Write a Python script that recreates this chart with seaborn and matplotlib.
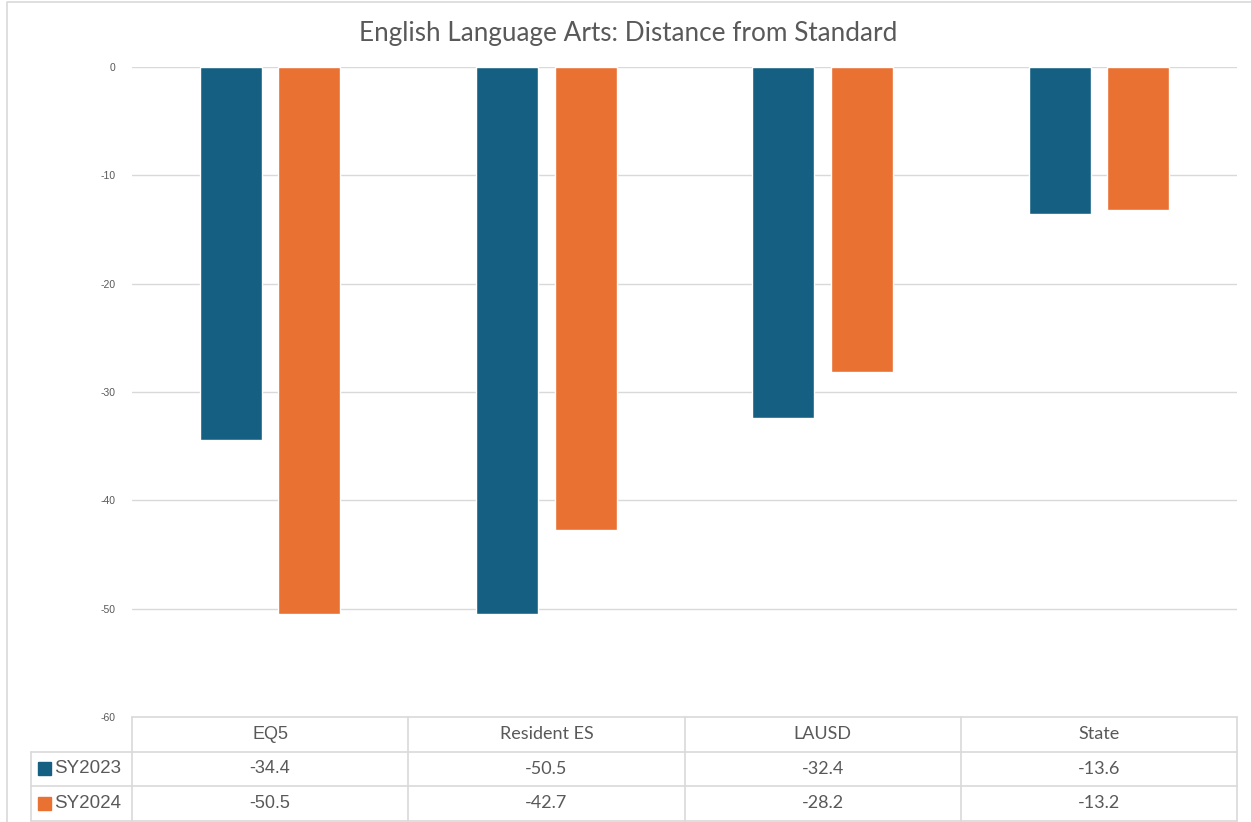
import matplotlib
matplotlib.use("Agg")
import matplotlib.pyplot as plt
import seaborn as sns
import pandas as pd
from matplotlib.patches import Rectangle
from matplotlib.lines import Line2D

# Data
categories = ["EQ5", "Resident ES", "LAUSD", "State"]
series_names = ["SY2023", "SY2024"]
sy2023 = [-34.4, -50.5, -32.4, -13.6]
sy2024 = [-50.5, -42.7, -28.2, -13.2]
y_ticks = [0, -10, -20, -30, -40, -50, -60]
title = "English Language Arts: Distance from Standard"

colors = ["#156082", "#E97132"]
text_gray = "#595959"
line_gray = "#D9D9D9"

df = pd.DataFrame({
    "category": categories * 2,
    "series": [series_names[0]] * len(categories) + [series_names[1]] * len(categories),
    "value": sy2023 + sy2024,
})

sns.set_theme(style="white")
plt.rcParams["font.family"] = ["Lato", "DejaVu Sans"]

W, H = 1251, 822
fig = plt.figure(figsize=(W / 100, H / 100), dpi=100)

# plot area in pixels
left, right, top, bottom = 132, 1237, 67, 717
ax = fig.add_axes([left / W, 1 - bottom / H, (right - left) / W, (bottom - top) / H])

sns.barplot(data=df, x="category", y="value", hue="series", order=categories,
            hue_order=series_names, palette=colors, width=0.569, gap=0.21,
            ax=ax, legend=False, errorbar=None, saturation=1)

ax.set_ylim(-60, 0)
ax.set_xlim(-0.5, len(categories) - 0.5)
ax.set_yticks(y_ticks)
ax.set_yticklabels([str(t) for t in y_ticks], fontsize=7.5, color=text_gray,
                   family=["Liberation Sans", "DejaVu Sans"])
ax.tick_params(axis="y", length=0, pad=12)
ax.set_xticks([])
ax.set_xlabel("")
ax.set_ylabel("")
for s in ax.spines.values():
    s.set_visible(False)
for t in y_ticks[:-1]:
    ax.axhline(t, color=line_gray, lw=1.0, zorder=0)

fig.text(628 / W, 1 - 33 / H, title, ha="center", va="center",
         fontsize=18.8, color=text_gray)

# data table under the plot area
row_h = 34.5 / (bottom - top)  # in axes fraction
legend_left = (31 - left) / (right - left)
tr = ax.get_xaxis_transform()
ta = ax.transAxes
kw = dict(color=line_gray, lw=1.2, clip_on=False)

ax.plot([0, 1], [0, 0], transform=ta, **kw)
for k in range(len(categories) + 1):
    ax.plot([k - 0.5, k - 0.5], [0, -3 * row_h], transform=tr, **kw)
for r in range(1, 4):
    ax.plot([legend_left, 1], [-r * row_h, -r * row_h], transform=ta, **kw)
ax.plot([legend_left, legend_left], [-row_h, -3 * row_h], transform=ta, **kw)

table_fs = 13
first_font = ["Liberation Sans", "DejaVu Sans"]
for k, cat in enumerate(categories):
    ax.text(k, -0.5 * row_h, cat, transform=tr, ha="center", va="center",
            fontsize=table_fs, color=text_gray,
            family=first_font if k == 0 else ["Lato", "DejaVu Sans"])

for r, (name, vals, c) in enumerate(zip(series_names, [sy2023, sy2024], colors)):
    yc = -(r + 1.5) * row_h
    ax.add_patch(Rectangle((legend_left + 0.0065, yc - 0.01), 0.0115, 0.02,
                           transform=ta, color=c, clip_on=False))
    ax.text(legend_left + 0.0205, yc, name, transform=ta, ha="left", va="center",
            fontsize=table_fs + 0.5, color=text_gray, family=first_font)
    for k, v in enumerate(vals):
        ax.text(k, yc, f"{v:.1f}", transform=tr, ha="center", va="center",
                fontsize=table_fs, color=text_gray,
                family=first_font if k == 0 else ["Lato", "DejaVu Sans"])

# chart frame (left and top edges)
fig.lines.append(Line2D([7 / W, 7 / W, 1.0], [0.0, 1 - 2 / H, 1 - 2 / H],
                        transform=fig.transFigure, color=line_gray, lw=1.2))

fig.savefig("out.png", dpi=100)
